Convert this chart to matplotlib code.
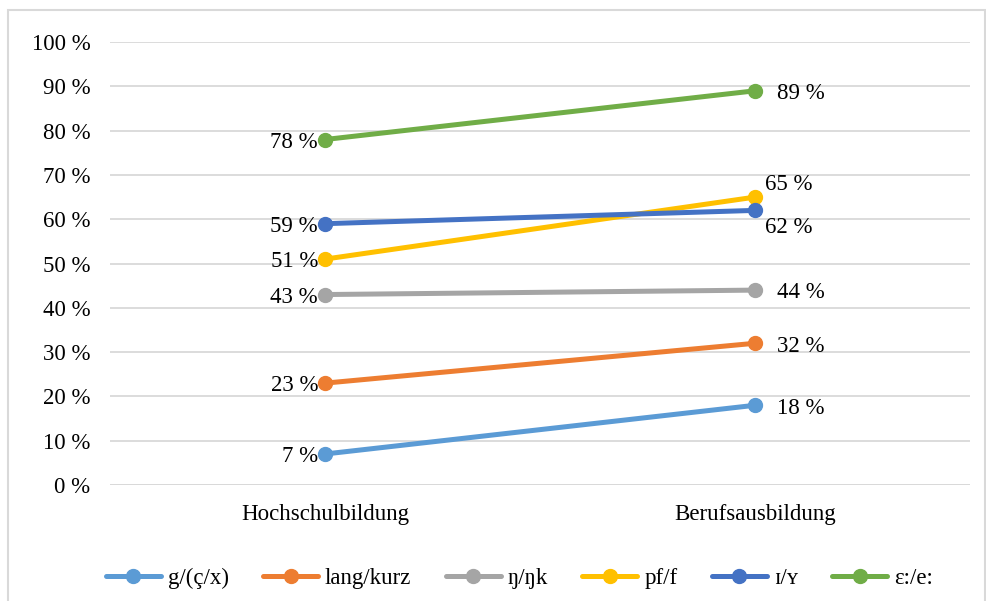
import matplotlib.pyplot as plt
from matplotlib.patches import Rectangle

plt.rcParams['font.family'] = ['Liberation Serif', 'DejaVu Serif']

# data
groups = ['Hochschulbildung', 'Berufsausbildung']
series = ['g/(ç/x)', 'lang/kurz', 'ŋ/ŋk', 'pf/f', 'ɪ/ʏ', 'ɛ:/e:']
values = [
    [7, 18],
    [23, 32],
    [43, 44],
    [51, 65],
    [59, 62],
    [78, 89],
]
colors = ['#5B9BD5', '#ED7D31', '#A5A5A5', '#FFC000', '#4472C4', '#70AD47']
y_ticks = list(range(0, 101, 10))

FS = 16.5

fig = plt.figure(figsize=(9.87, 6.01), dpi=100)
fig.patches.append(Rectangle((0.008, -0.01), 0.99, 0.993, transform=fig.transFigure,
                             fill=False, edgecolor='#D9D9D9', linewidth=1.5))
ax = fig.add_axes([0.1115, 0.193, 0.8713, 0.737])

x = [0, 1]
for name, vals, c in zip(series, values, colors):
    ax.plot(x, vals, color=c, linewidth=3.6, marker='o', markersize=10, label=name,
            solid_capstyle='round')

# data labels: left side to the left, right side to the right
for name, vals, c in zip(series, values, colors):
    ax.annotate(f'{vals[0]} %', (0, vals[0]), xytext=(-5, -2), textcoords='offset points',
                ha='right', va='center', fontsize=FS)
    dx, dy = 16, -2
    if name == 'pf/f':
        dx, dy = 7, 9
    elif name == 'ɪ/ʏ':
        dx, dy = 7, -12
    ax.annotate(f'{vals[1]} %', (1, vals[1]), xytext=(dx, dy), textcoords='offset points',
                ha='left', va='center', fontsize=FS)

ax.set_xlim(-0.5, 1.5)
ax.set_ylim(0, 100)
ax.set_yticks(y_ticks)
ax.set_yticklabels([f'{t} %' for t in y_ticks], fontsize=FS)
ax.set_xticks(x)
ax.set_xticklabels(groups, fontsize=FS)
ax.tick_params(length=0, pad=14)
ax.tick_params(axis='x', pad=14)
ax.grid(axis='y', color='#D9D9D9', linewidth=1.3)
ax.set_axisbelow(True)
for s in ax.spines.values():
    s.set_visible(False)
ax.axhline(0, color='#D9D9D9', linewidth=1.3, zorder=0)

ax.legend(loc='center', bbox_to_anchor=(0.476, -0.21), ncol=6, frameon=False,
          fontsize=FS, handlelength=2.4, columnspacing=1.5, handletextpad=0.3)

fig.savefig('out.png', dpi=100)
